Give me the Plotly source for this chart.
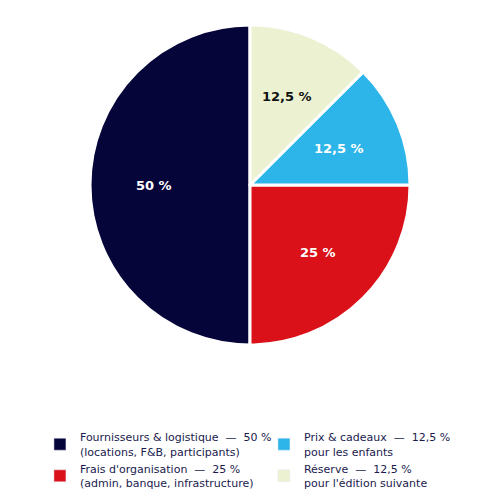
import math
import plotly.graph_objects as go

labels = [
    "Fournisseurs & logistique\u00a0\u00a0—\u00a0\u00a050 %<br>(locations, F&B, participants)",
    "Frais d'organisation\u00a0\u00a0—\u00a0\u00a025 %<br>(admin, banque, infrastructure)",
    "Prix & cadeaux\u00a0\u00a0—\u00a0\u00a012,5 %<br>pour les enfants",
    "Réserve\u00a0\u00a0—\u00a0\u00a012,5 %<br>pour l'édition suivante",
]
values = [50, 25, 12.5, 12.5]
slice_text = ["50 %", "25 %", "12,5 %", "12,5 %"]
colors = ["#05053a", "#da1118", "#2db5ea", "#ecf1d2"]
text_colors = ["#ffffff", "#ffffff", "#ffffff", "#111111"]
legend_order = [0, 2, 1, 3]

W, H = 500, 500
ML, MR, MT, MB = 0, 16, 17, 163
plot_w = W - ML - MR
plot_h = H - MT - MB
radius_px = min(plot_w, plot_h) / 2
label_dist = 0.6

fig = go.Figure()
fig.add_trace(go.Pie(
    labels=labels, values=values,
    textinfo="none",
    marker=dict(colors=colors, line=dict(color="white", width=3)),
    sort=False, direction="counterclockwise", rotation=180,
    showlegend=False, hoverinfo="label+percent",
))
for i in legend_order:
    fig.add_trace(go.Bar(x=[None], y=[None], name=labels[i],
                         marker_color=colors[i], showlegend=True))

# slice labels at 0.6 of the radius, along each slice's middle angle
total = sum(values)
cum = 0.0
annotations = []
for v, t, tc in zip(values, slice_text, text_colors):
    mid = (cum + v / 2) / total
    cum += v
    theta = 2 * math.pi * mid  # counterclockwise from 12 o'clock
    dx = -math.sin(theta) * radius_px * label_dist
    dy = math.cos(theta) * radius_px * label_dist
    annotations.append(dict(
        x=0.5 + dx / plot_w, y=0.5 + dy / plot_h, xref="paper", yref="paper",
        text=f"<b>{t}</b>", showarrow=False,
        font=dict(size=13, color=tc, family="DejaVu Sans"),
        xanchor="center", yanchor="middle",
    ))

fig.update_layout(
    width=W, height=H,
    margin=dict(l=ML, r=MR, t=MT, b=MB),
    paper_bgcolor="white", plot_bgcolor="white",
    xaxis=dict(visible=False), yaxis=dict(visible=False),
    font=dict(family="DejaVu Sans", color="#1a1a4e"),
    annotations=annotations,
    legend=dict(orientation="h", x=0.066, xanchor="left", y=-0.245, yanchor="top",
                entrywidth=179, entrywidthmode="pixels",
                font=dict(size=11, color="#1a1a4e", family="DejaVu Sans"),
                itemclick=False),
)
fig.write_html("out.html")
